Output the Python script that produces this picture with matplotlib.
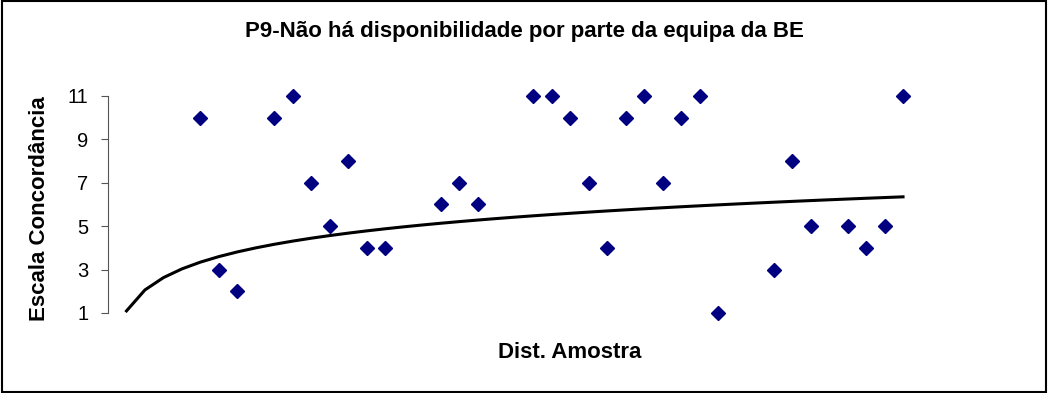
import numpy as np
import matplotlib
matplotlib.use("Agg")
from matplotlib import pyplot as plt
from matplotlib.patches import Rectangle

plt.rcParams['font.family'] = ['Liberation Sans', 'DejaVu Sans']

# sample positions 1..43, answers on a 1-11 scale (0 = no answer, below the axis)
dist = np.arange(1, 44)
escala = [0, 0, 0, 0, 10, 3, 2, 0, 10, 11, 7, 5, 8, 4, 4, 0, 0, 6, 7, 6, 0, 0,
          11, 11, 10, 7, 4, 10, 11, 7, 10, 11, 1, 0, 0, 3, 8, 5, 0, 5, 4, 5, 11]
yticks = [1, 3, 5, 7, 9, 11]

title = "P9-Não há disponibilidade por parte da equipa da BE"
xlabel = "Dist. Amostra"
ylabel = "Escala Concordância"

escala = np.array(escala, dtype=float)

# logarithmic trendline over all answers
b, a = np.polyfit(np.log(dist), escala, 1)
trend = a + b * np.log(dist)

fig = plt.figure(figsize=(10.48, 3.93), dpi=100)
ax = fig.add_axes([108 / 1048, 1 - 313 / 393, (940 - 108) / 1048, (313 - 96) / 393])

shown = np.where(escala >= 1, escala, np.nan)
ax.plot(dist, shown, linestyle='none', marker='D', ms=7.2,
        color='#000080', clip_on=False, zorder=3)
ax.plot(dist, trend, color='black', lw=2.2, zorder=2)

ax.set_xlim(0, 45)
ax.set_ylim(1, 11)
ax.set_yticks(yticks)
ax.set_xticks([])
for side in ['top', 'right', 'bottom']:
    ax.spines[side].set_visible(False)
ax.spines['left'].set_color('#555555')
ax.tick_params(axis='y', length=5, color='#555555', labelsize=14.5, pad=9)

fig.text(0.5, 1 - 32 / 393, title, ha='center', va='center',
         fontsize=16, fontweight='bold')
fig.text(570 / 1048, 1 - 353 / 393, xlabel, ha='center', va='center',
         fontsize=16, fontweight='bold')
fig.text(40 / 1048, 1 - 209 / 393, ylabel, ha='center', va='center',
         rotation=90, fontsize=16, fontweight='bold')

fig.patches.append(Rectangle((0.002, 0.003), 0.996, 0.994, transform=fig.transFigure,
                             fill=False, edgecolor='black', lw=1.5))

fig.savefig("out.png", dpi=100)
